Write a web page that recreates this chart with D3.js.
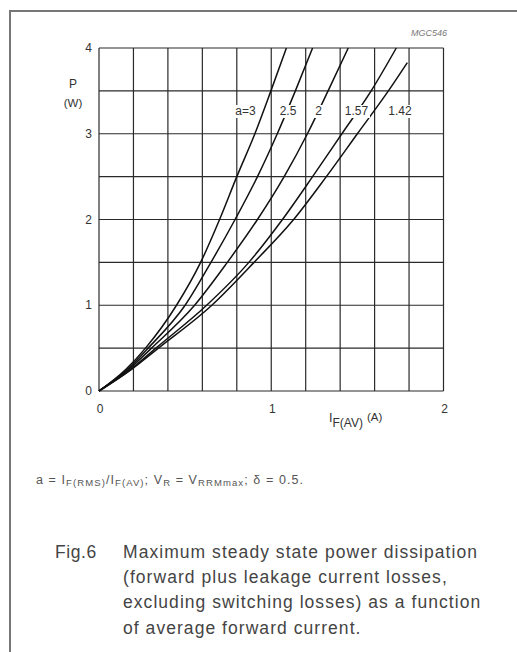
<!DOCTYPE html>
<html>
<head>
<meta charset="utf-8">
<script src="https://cdn.jsdelivr.net/npm/d3@7"></script>
<style>
  body { margin: 0; background: #fff; }
  svg { display: block; font-family: "Liberation Sans", Arial, sans-serif; }
</style>
</head>
<body>
<div class="chart"></div>
<script>
// curve data: P (W) levels and I_F(AV) (A) per curve
const curveNames = ["a=3", "2.5", "2", "1.57", "1.42"];
const pLevels = [0, 0.25, 0.5, 1, 1.5, 2, 2.5, 3, 3.5, 4];
const pA142 = [0, 0.25, 0.5, 1, 1.5, 2, 2.5, 3, 3.5, 3.83];
const iA3 = [0, 0.155, 0.27, 0.45, 0.59, 0.7, 0.8, 0.905, 0.998, 1.088];
const iA25 = [0, 0.163, 0.285, 0.5, 0.65, 0.79, 0.92, 1.035, 1.14, 1.24];
const iA2 = [0, 0.171, 0.305, 0.555, 0.745, 0.92, 1.075, 1.21, 1.33, 1.447];
const iA157 = [0, 0.182, 0.33, 0.625, 0.87, 1.065, 1.24, 1.41, 1.58, 1.726];
const iA142 = [0, 0.187, 0.345, 0.655, 0.9, 1.13, 1.32, 1.5, 1.68, 1.79];
const xTicks = [0, 1, 2];
const yTicks = [0, 1, 2, 3, 4];
const captionLines = [
  "Maximum steady state power dissipation",
  "(forward plus leakage current losses,",
  "excluding switching losses) as a function",
  "of average forward current."
];

const series = [
  { name: curveNames[0], i: iA3, p: pLevels },
  { name: curveNames[1], i: iA25, p: pLevels },
  { name: curveNames[2], i: iA2, p: pLevels },
  { name: curveNames[3], i: iA157, p: pLevels },
  { name: curveNames[4], i: iA142, p: pA142 }
];

const svg = d3.select(".chart").append("svg")
  .attr("width", 517)
  .attr("height", 652);

// page frame of the scanned sheet
svg.append("path")
  .attr("d", "M10,652 V11 H517")
  .attr("fill", "none")
  .attr("stroke", "#777")
  .attr("stroke-width", 2);

const x = d3.scaleLinear().domain([0, 2]).range([99, 443.5]);
const y = d3.scaleLinear().domain([0, 4]).range([391, 48]);

// grid: verticals every 0.2 A, horizontals every 0.5 W
const grid = svg.append("g").attr("stroke", "#2a2a2a").attr("stroke-width", 1.2);
grid.selectAll("line.v")
  .data(d3.range(0, 11).map((k) => k * 0.2))
  .join("line")
  .attr("class", "v")
  .attr("x1", (d) => x(d)).attr("x2", (d) => x(d))
  .attr("y1", y(0)).attr("y2", y(4));
grid.selectAll("line.h")
  .data(d3.range(0, 9).map((k) => k * 0.5))
  .join("line")
  .attr("class", "h")
  .attr("x1", x(0)).attr("x2", x(2))
  .attr("y1", (d) => y(d)).attr("y2", (d) => y(d));

// curves
const line = d3.line()
  .x((d) => x(d[0]))
  .y((d) => y(d[1]))
  .curve(d3.curveMonotoneX);

svg.append("g").selectAll("path")
  .data(series)
  .join("path")
  .attr("d", (s) => line(s.i.map((v, k) => [v, s.p[k]])))
  .attr("fill", "none")
  .attr("stroke", "#111")
  .attr("stroke-width", 1.5);

// curve labels, knocked out of the curves with a white box
const labelX = [245.5, 288, 318.5, 356.5, 400];
const labels = svg.append("g").selectAll("g")
  .data(curveNames)
  .join("g");
labels.append("rect").attr("fill", "#fff");
labels.append("text")
  .attr("x", (d, k) => labelX[k])
  .attr("y", 115)
  .attr("text-anchor", "middle")
  .attr("font-size", 12)
  .attr("fill", "#333")
  .text((d) => d);
labels.each(function () {
  const g = d3.select(this);
  const b = g.select("text").node().getBBox();
  g.select("rect")
    .attr("x", b.x - 1.5).attr("y", b.y + 1)
    .attr("width", b.width + 3).attr("height", b.height - 1);
});

// tick labels
svg.append("g").selectAll("text")
  .data(yTicks)
  .join("text")
  .attr("x", 92)
  .attr("y", (d) => y(d) + 4)
  .attr("text-anchor", "end")
  .attr("font-size", 12)
  .attr("fill", "#333")
  .text((d) => d);

svg.append("g").selectAll("text")
  .data(xTicks)
  .join("text")
  .attr("x", (d) => x(d) + 1)
  .attr("y", 413)
  .attr("text-anchor", "middle")
  .attr("font-size", 12)
  .attr("fill", "#333")
  .text((d) => d);

// axis titles
svg.append("text").attr("x", 73).attr("y", 88).attr("text-anchor", "middle")
  .attr("font-size", 12).attr("fill", "#333").text("P");
svg.append("text").attr("x", 73).attr("y", 107).attr("text-anchor", "middle")
  .attr("font-size", 11.5).attr("fill", "#333").text("(W)");

const xt = svg.append("text").attr("x", 329).attr("y", 422)
  .attr("font-size", 12.5).attr("fill", "#333");
xt.append("tspan").text("I");
xt.append("tspan").attr("dy", 5).attr("font-size", 12).text("F(AV)");
xt.append("tspan").attr("dy", -6).attr("dx", 4).attr("font-size", 11.5).text("(A)");

svg.append("text").attr("x", 447).attr("y", 36).attr("text-anchor", "end")
  .attr("font-size", 9).attr("font-style", "italic").attr("fill", "#777")
  .text("MGC546");

// footnote
const fn = svg.append("text").attr("x", 36).attr("y", 484)
  .attr("font-size", 12.5).attr("fill", "#555")
  .attr("textLength", 267).attr("lengthAdjust", "spacing");
fn.append("tspan").text("a = I");
fn.append("tspan").attr("font-size", 9.5).attr("dy", 2).text("F(RMS)");
fn.append("tspan").attr("dy", -2).text("/I");
fn.append("tspan").attr("font-size", 9.5).attr("dy", 2).text("F(AV)");
fn.append("tspan").attr("dy", -2).text("; V");
fn.append("tspan").attr("font-size", 9.5).attr("dy", 2).text("R");
fn.append("tspan").attr("dy", -2).text(" = V");
fn.append("tspan").attr("font-size", 9.5).attr("dy", 2).text("RRMmax");
fn.append("tspan").attr("dy", -2).text("; δ = 0.5.");

// caption
svg.append("text").attr("x", 55).attr("y", 558)
  .attr("font-size", 17.5).attr("letter-spacing", 0.6).attr("fill", "#444")
  .text("Fig.6");
svg.append("g").selectAll("text")
  .data(captionLines)
  .join("text")
  .attr("x", 123)
  .attr("y", (d, k) => 558 + k * 25.2)
  .attr("font-size", 17.5)
  .attr("letter-spacing", 1.05)
  .attr("fill", "#444")
  .text((d) => d);
</script>
</body>
</html>
